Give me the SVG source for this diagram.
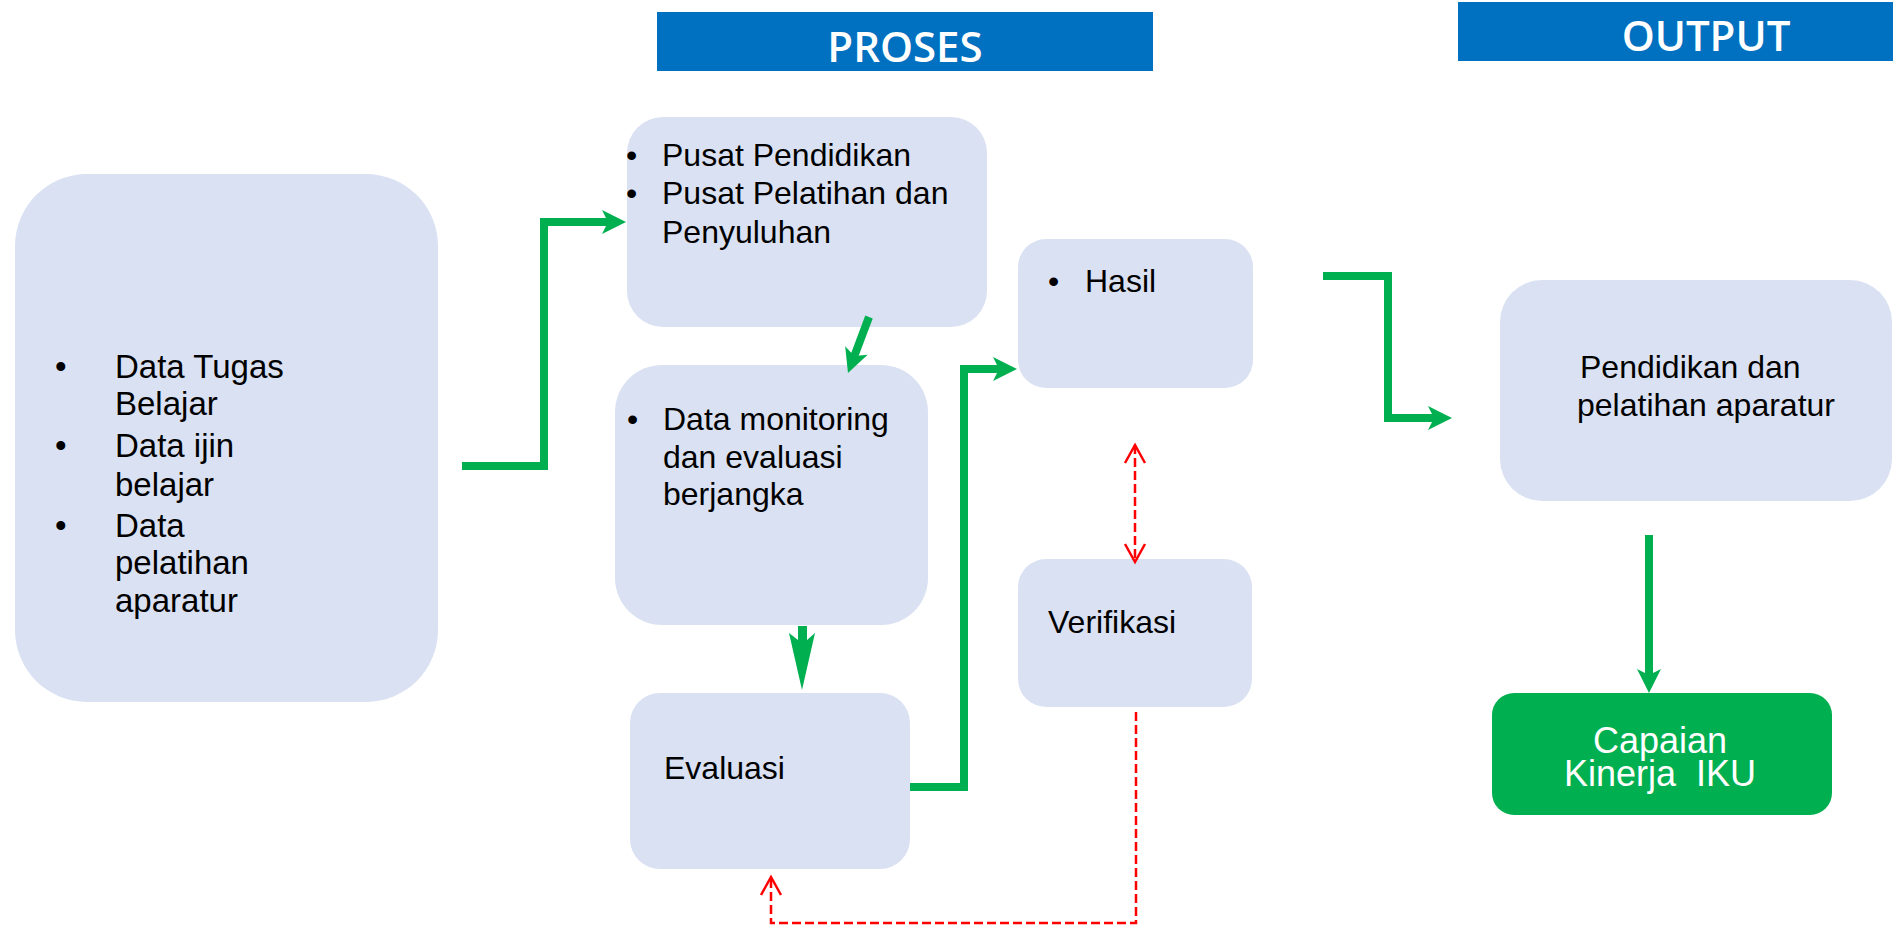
<svg xmlns="http://www.w3.org/2000/svg" width="1893" height="925" viewBox="0 0 1893 925">
  <style>
    .box { fill: #DAE1F2; }
    .t { font-family: "Liberation Sans", Arial, sans-serif; font-size: 32px; fill: #000; }
    .hdr { fill: #0070C0; }
    .ht { font-family: "Open Sans", "Liberation Sans", sans-serif; font-weight: 600; font-size: 42px; fill: #fff; }
    .g { stroke: #00B050; stroke-width: 8; fill: none; stroke-linejoin: miter; }
    .r { stroke: #FF0000; stroke-width: 2.5; fill: none; stroke-dasharray: 9 4; }
    .cap { font-family: "Liberation Sans", Arial, sans-serif; font-size: 36px; fill: #fff; }
  </style>
  <defs>
    <!-- green stealth head; the line ends at the notch, the tip sits 18px further on -->
    <marker id="gHead" markerUnits="userSpaceOnUse" markerWidth="26" markerHeight="26" refX="6" refY="12" orient="auto" overflow="visible">
      <path d="M0,0 L24,12 L0,24 L6,12 Z" fill="#00B050"/>
    </marker>
    <!-- red open chevron head -->
    <marker id="rOpen" markerUnits="userSpaceOnUse" markerWidth="22" markerHeight="22" refX="18" refY="10" orient="auto-start-reverse" overflow="visible">
      <path d="M0,0 L18,10 L0,20" fill="none" stroke="#FF0000" stroke-width="2.5"/>
    </marker>
  </defs>

  <rect width="1893" height="925" fill="#fff"/>

  <!-- section headers -->
  <g id="hdr-proses">
    <rect class="hdr" x="657" y="12" width="496" height="59"/>
    <text class="ht" x="905" y="62" text-anchor="middle">PROSES</text>
  </g>
  <g id="hdr-output">
    <rect class="hdr" x="1458" y="2" width="435" height="59"/>
    <text class="ht" x="1706" y="51" text-anchor="middle">OUTPUT</text>
  </g>

  <!-- input data -->
  <g id="input">
    <rect class="box" x="15" y="174" width="423" height="528" rx="72"/>
    <text class="t" style="font-size:33px">
      <tspan x="55" y="378">•</tspan><tspan x="115" y="378">Data Tugas</tspan>
      <tspan x="115" y="415">Belajar</tspan>
      <tspan x="55" y="457">•</tspan><tspan x="115" y="457">Data ijin</tspan>
      <tspan x="115" y="496">belajar</tspan>
      <tspan x="55" y="537">•</tspan><tspan x="115" y="537">Data</tspan>
      <tspan x="115" y="574">pelatihan</tspan>
      <tspan x="115" y="612">aparatur</tspan>
    </text>
  </g>

  <g id="pusat">
    <rect class="box" x="627" y="117" width="360" height="210" rx="36"/>
    <text class="t">
      <tspan x="626" y="166">•</tspan><tspan x="662" y="166">Pusat Pendidikan</tspan>
      <tspan x="626" y="204">•</tspan><tspan x="662" y="204">Pusat Pelatihan dan</tspan>
      <tspan x="662" y="243">Penyuluhan</tspan>
    </text>
  </g>

  <g id="monitoring">
    <rect class="box" x="615" y="365" width="313" height="260" rx="47"/>
    <text class="t">
      <tspan x="627" y="430">•</tspan><tspan x="663" y="430">Data monitoring</tspan>
      <tspan x="663" y="468">dan evaluasi</tspan>
      <tspan x="663" y="505">berjangka</tspan>
    </text>
  </g>

  <g id="evaluasi">
    <rect class="box" x="630" y="693" width="280" height="176" rx="30"/>
    <text class="t" x="664" y="779">Evaluasi</text>
  </g>

  <g id="hasil">
    <rect class="box" x="1018" y="239" width="235" height="149" rx="28"/>
    <text class="t"><tspan x="1048" y="292">•</tspan><tspan x="1085" y="292">Hasil</tspan></text>
  </g>

  <g id="verifikasi">
    <rect class="box" x="1018" y="559" width="234" height="148" rx="28"/>
    <text class="t" x="1048" y="633">Verifikasi</text>
  </g>

  <g id="pendidikan">
    <rect class="box" x="1500" y="280" width="392" height="221" rx="42"/>
    <text class="t">
      <tspan x="1580" y="378">Pendidikan dan</tspan>
      <tspan x="1577" y="416">pelatihan aparatur</tspan>
    </text>
  </g>

  <g id="capaian">
    <rect x="1492" y="693" width="340" height="122" rx="22" fill="#00B050"/>
    <text class="cap" text-anchor="middle"><tspan x="1660" y="753">Capaian</tspan><tspan x="1660" y="786">Kinerja&#160;&#160;IKU</tspan></text>
  </g>

  <!-- connectors -->
  <g id="connectors">
    <path class="g" d="M462,466 H544 V222 H608" marker-end="url(#gHead)"/>
    <path class="g" d="M869,317 L854.3,356.1" stroke-width="7" marker-end="url(#gHead)"/>
    <path d="M798,626 H807 V640 L815,633 L802,690 L789,633 L798,640 Z" fill="#00B050"/>
    <path class="g" d="M910,787 H964 V369 H999" marker-end="url(#gHead)"/>
    <path class="g" d="M1323,276 H1388 V418 H1434" stroke-width="7.5" marker-end="url(#gHead)"/>
    <path class="g" d="M1649,535 V675" stroke-width="7.5" marker-end="url(#gHead)"/>
    <path class="r" d="M1135,445 V562" marker-start="url(#rOpen)" marker-end="url(#rOpen)"/>
    <path class="r" d="M1136,712 V923 H771 V877" marker-end="url(#rOpen)"/>
  </g>
</svg>
